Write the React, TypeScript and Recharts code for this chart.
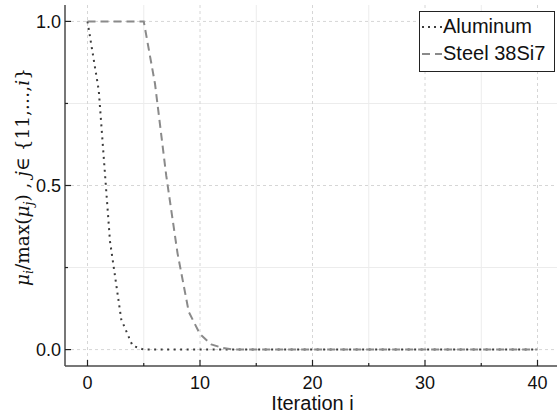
import React from 'react';
import { LineChart, Line, XAxis, YAxis, CartesianGrid } from 'recharts';

// iteration index
const iterations = [
  0, 1, 2, 3, 4, 5, 6, 7, 8, 9, 10, 11, 12, 13, 14, 15, 16, 17, 18, 19, 20,
  21, 22, 23, 24, 25, 26, 27, 28, 29, 30, 31, 32, 33, 34, 35, 36, 37, 38, 39, 40,
];

// normalised mu per iteration
const aluminum = [
  1, 0.79, 0.33, 0.092, 0.012, 0, 0, 0, 0, 0, 0, 0, 0, 0, 0, 0, 0, 0, 0, 0, 0,
  0, 0, 0, 0, 0, 0, 0, 0, 0, 0, 0, 0, 0, 0, 0, 0, 0, 0, 0, 0,
];
const steel = [
  1, 1, 1, 1, 1, 1, 0.81, 0.53, 0.294, 0.115, 0.047, 0.016, 0.005, 0, 0, 0, 0, 0, 0, 0, 0,
  0, 0, 0, 0, 0, 0, 0, 0, 0, 0, 0, 0, 0, 0, 0, 0, 0, 0, 0, 0,
];

const xTicks = [0, 5, 10, 15, 20, 25, 30, 35, 40];
const yTicks = [0, 0.25, 0.5, 0.75, 1];

const data = iterations.map((i, k) => ({ i, aluminum: aluminum[k], steel: steel[k] }));

const SANS = '"Liberation Sans", Arial, Helvetica, sans-serif';
const SERIF = '"DejaVu Serif", "Liberation Serif", serif';
const AXIS = '#4a4a4a';

const XTick = (props: any) => {
  const { x, y, payload } = props;
  const major = payload.value % 10 === 0;
  return (
    <g>
      <line x1={x} x2={x} y1={y} y2={y - (major ? 6 : 3)} stroke="#222" strokeWidth={1.2} />
      {major && (
        <text x={x} y={y + 23} textAnchor="middle" fontSize={18} fill="#111" fontFamily={SANS}>
          {payload.value}
        </text>
      )}
    </g>
  );
};

const YTick = (props: any) => {
  const { x, y, payload } = props;
  const major = Math.abs((payload.value * 2) % 1) < 1e-9;
  return (
    <g>
      <line x1={x} x2={x + (major ? 6 : 3)} y1={y} y2={y} stroke="#222" strokeWidth={1.2} />
      {major && (
        <text x={x - 4} y={y + 6.5} textAnchor="end" fontSize={18} fill="#111" fontFamily={SANS}>
          {payload.value.toFixed(1)}
        </text>
      )}
    </g>
  );
};

const XLabel = () => (
  <text x={312.5} y={410} textAnchor="middle" fontSize={20} fill="#111" fontFamily={SANS}>
    Iteration i
  </text>
);

const YLabel = () => (
  <text transform="rotate(-90)" x={-177} y={29} textAnchor="middle" fontSize={18.5} fill="#111" fontFamily={SERIF}>
    <tspan fontStyle="italic">μ</tspan>
    <tspan fontStyle="italic" fontSize={12.5} dy={4}>i</tspan>
    <tspan dy={-4}>/max(</tspan>
    <tspan fontStyle="italic">μ</tspan>
    <tspan fontStyle="italic" fontSize={12.5} dy={4}>j</tspan>
    <tspan dy={-4}>) , </tspan>
    <tspan fontStyle="italic">j</tspan>
    <tspan>∈ {'{'}11,…,</tspan>
    <tspan fontStyle="italic">i</tspan>
    <tspan>{'}'}</tspan>
  </text>
);

const legendRows = [
  { name: 'Aluminum', color: '#3c3c3c', dash: '2 4' },
  { name: 'Steel 38Si7', color: '#8a8a8a', dash: '8 5' },
];

const LegendBox = () => (
  <div
    style={{
      position: 'absolute',
      left: 419,
      top: 11,
      border: '1px solid #222',
      background: '#fff',
      width: 134,
      height: 58,
      paddingTop: 1,
      fontFamily: SANS,
      fontSize: 20,
      color: '#111',
    }}
  >
    {legendRows.map((r) => (
      <div key={r.name} style={{ display: 'flex', alignItems: 'center', height: 27, whiteSpace: 'nowrap' }}>
        <svg width={23} height={10}>
          <line x1={2} x2={22} y1={5} y2={5} stroke={r.color} strokeWidth={2} strokeDasharray={r.dash} />
        </svg>
        <span>{r.name}</span>
      </div>
    ))}
  </div>
);

export default function App() {
  return (
    <div style={{ position: 'absolute', left: 0, top: 0, width: 557, height: 417, overflow: 'hidden', background: '#fff' }}>
      <LineChart width={560} height={417} data={data} margin={{ top: 5, right: 0, bottom: 0, left: 0 }}>
        <CartesianGrid horizontalValues={[0.25, 0.75]} verticalValues={[5, 15, 25, 35]} stroke="#ececec" />
        <CartesianGrid
          horizontalValues={[0, 0.5, 1]}
          verticalValues={[0, 10, 20, 30, 40]}
          stroke="#d6d6d6"
          strokeDasharray="3 3"
        />
        <XAxis
          dataKey="i"
          type="number"
          domain={[-2, 42]}
          ticks={xTicks}
          height={51}
          tickSize={0}
          tickMargin={0}
          tick={<XTick />}
          axisLine={{ stroke: AXIS, strokeWidth: 1.5 }}
          label={<XLabel />}
        />
        <XAxis
          xAxisId="top"
          orientation="top"
          dataKey="i"
          type="number"
          domain={[-2, 42]}
          height={0}
          tick={false}
          tickLine={false}
          axisLine={{ stroke: '#777', strokeWidth: 1.5 }}
        />
        <YAxis
          type="number"
          domain={[-0.05, 1.05]}
          ticks={yTicks}
          width={65}
          tickSize={0}
          tickMargin={0}
          tick={<YTick />}
          axisLine={{ stroke: AXIS, strokeWidth: 1.5 }}
          label={<YLabel />}
        />
        <Line
          type="linear"
          dataKey="aluminum"
          name="Aluminum"
          stroke="#3c3c3c"
          strokeWidth={2}
          strokeDasharray="2 4.5"
          dot={false}
          isAnimationActive={false}
        />
        <Line
          type="linear"
          dataKey="steel"
          name="Steel 38Si7"
          stroke="#8a8a8a"
          strokeWidth={2}
          strokeDasharray="8 5"
          dot={false}
          isAnimationActive={false}
        />
      </LineChart>
      <LegendBox />
    </div>
  );
}
